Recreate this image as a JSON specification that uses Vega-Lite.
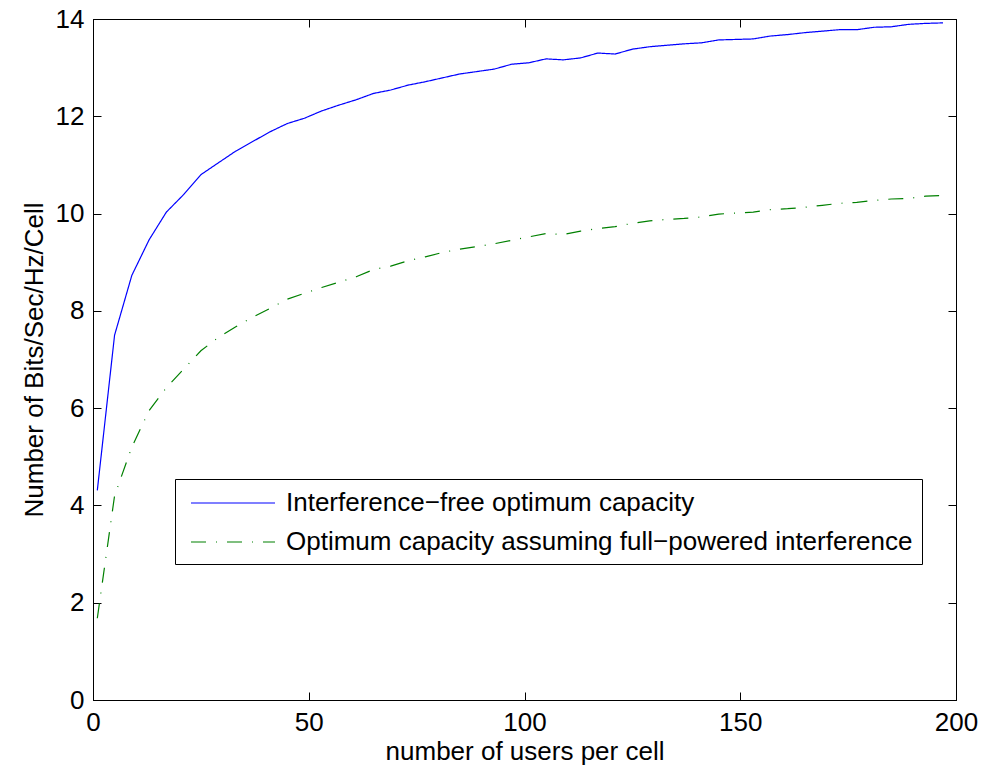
{
  "$schema": "https://vega.github.io/schema/vega-lite/v6.json",
  "width": 863,
  "height": 681,
  "autosize": {"type": "none"},
  "padding": {"left": 93, "top": 19, "right": 25, "bottom": 69},
  "background": "white",
  "config": {
    "font": "Liberation Sans",
    "view": {"stroke": "black", "strokeWidth": 1},
    "axis": {
      "domainColor": "black",
      "domainWidth": 1,
      "tickColor": "black",
      "tickWidth": 1,
      "tickSize": -8,
      "grid": false,
      "labelFont": "Liberation Sans",
      "labelFontSize": 26,
      "labelColor": "black",
      "titleFont": "Liberation Sans",
      "titleFontSize": 26,
      "titleFontWeight": "normal",
      "titleColor": "black"
    }
  },
  "datasets": {
    "d": [
      {"users": 1, "bits": 4.31, "series": "Interference−free optimum capacity"},
      {"users": 5, "bits": 7.5, "series": "Interference−free optimum capacity"},
      {"users": 9, "bits": 8.73, "series": "Interference−free optimum capacity"},
      {"users": 13, "bits": 9.46, "series": "Interference−free optimum capacity"},
      {"users": 17, "bits": 10.03, "series": "Interference−free optimum capacity"},
      {"users": 21, "bits": 10.39, "series": "Interference−free optimum capacity"},
      {"users": 25, "bits": 10.8, "series": "Interference−free optimum capacity"},
      {"users": 29, "bits": 11.04, "series": "Interference−free optimum capacity"},
      {"users": 33, "bits": 11.28, "series": "Interference−free optimum capacity"},
      {"users": 37, "bits": 11.48, "series": "Interference−free optimum capacity"},
      {"users": 41, "bits": 11.68, "series": "Interference−free optimum capacity"},
      {"users": 45, "bits": 11.85, "series": "Interference−free optimum capacity"},
      {"users": 49, "bits": 11.96, "series": "Interference−free optimum capacity"},
      {"users": 53, "bits": 12.11, "series": "Interference−free optimum capacity"},
      {"users": 57, "bits": 12.23, "series": "Interference−free optimum capacity"},
      {"users": 61, "bits": 12.34, "series": "Interference−free optimum capacity"},
      {"users": 65, "bits": 12.47, "series": "Interference−free optimum capacity"},
      {"users": 69, "bits": 12.54, "series": "Interference−free optimum capacity"},
      {"users": 73, "bits": 12.64, "series": "Interference−free optimum capacity"},
      {"users": 77, "bits": 12.71, "series": "Interference−free optimum capacity"},
      {"users": 81, "bits": 12.79, "series": "Interference−free optimum capacity"},
      {"users": 85, "bits": 12.87, "series": "Interference−free optimum capacity"},
      {"users": 89, "bits": 12.92, "series": "Interference−free optimum capacity"},
      {"users": 93, "bits": 12.97, "series": "Interference−free optimum capacity"},
      {"users": 97, "bits": 13.07, "series": "Interference−free optimum capacity"},
      {"users": 101, "bits": 13.1, "series": "Interference−free optimum capacity"},
      {"users": 105, "bits": 13.18, "series": "Interference−free optimum capacity"},
      {"users": 109, "bits": 13.16, "series": "Interference−free optimum capacity"},
      {"users": 113, "bits": 13.2, "series": "Interference−free optimum capacity"},
      {"users": 117, "bits": 13.3, "series": "Interference−free optimum capacity"},
      {"users": 121, "bits": 13.28, "series": "Interference−free optimum capacity"},
      {"users": 125, "bits": 13.38, "series": "Interference−free optimum capacity"},
      {"users": 129, "bits": 13.43, "series": "Interference−free optimum capacity"},
      {"users": 133, "bits": 13.46, "series": "Interference−free optimum capacity"},
      {"users": 137, "bits": 13.49, "series": "Interference−free optimum capacity"},
      {"users": 141, "bits": 13.51, "series": "Interference−free optimum capacity"},
      {"users": 145, "bits": 13.57, "series": "Interference−free optimum capacity"},
      {"users": 149, "bits": 13.58, "series": "Interference−free optimum capacity"},
      {"users": 153, "bits": 13.59, "series": "Interference−free optimum capacity"},
      {"users": 157, "bits": 13.65, "series": "Interference−free optimum capacity"},
      {"users": 161, "bits": 13.68, "series": "Interference−free optimum capacity"},
      {"users": 165, "bits": 13.72, "series": "Interference−free optimum capacity"},
      {"users": 169, "bits": 13.75, "series": "Interference−free optimum capacity"},
      {"users": 173, "bits": 13.78, "series": "Interference−free optimum capacity"},
      {"users": 177, "bits": 13.78, "series": "Interference−free optimum capacity"},
      {"users": 181, "bits": 13.83, "series": "Interference−free optimum capacity"},
      {"users": 185, "bits": 13.84, "series": "Interference−free optimum capacity"},
      {"users": 189, "bits": 13.89, "series": "Interference−free optimum capacity"},
      {"users": 193, "bits": 13.91, "series": "Interference−free optimum capacity"},
      {"users": 197, "bits": 13.92, "series": "Interference−free optimum capacity"},
      {"users": 1, "bits": 1.68, "series": "Optimum capacity assuming full−powered interference"},
      {"users": 5, "bits": 4.2, "series": "Optimum capacity assuming full−powered interference"},
      {"users": 9, "bits": 5.2, "series": "Optimum capacity assuming full−powered interference"},
      {"users": 13, "bits": 5.95, "series": "Optimum capacity assuming full−powered interference"},
      {"users": 17, "bits": 6.42, "series": "Optimum capacity assuming full−powered interference"},
      {"users": 21, "bits": 6.8, "series": "Optimum capacity assuming full−powered interference"},
      {"users": 25, "bits": 7.18, "series": "Optimum capacity assuming full−powered interference"},
      {"users": 29, "bits": 7.45, "series": "Optimum capacity assuming full−powered interference"},
      {"users": 33, "bits": 7.67, "series": "Optimum capacity assuming full−powered interference"},
      {"users": 37, "bits": 7.87, "series": "Optimum capacity assuming full−powered interference"},
      {"users": 41, "bits": 8.05, "series": "Optimum capacity assuming full−powered interference"},
      {"users": 45, "bits": 8.24, "series": "Optimum capacity assuming full−powered interference"},
      {"users": 49, "bits": 8.36, "series": "Optimum capacity assuming full−powered interference"},
      {"users": 53, "bits": 8.48, "series": "Optimum capacity assuming full−powered interference"},
      {"users": 57, "bits": 8.59, "series": "Optimum capacity assuming full−powered interference"},
      {"users": 61, "bits": 8.7, "series": "Optimum capacity assuming full−powered interference"},
      {"users": 65, "bits": 8.85, "series": "Optimum capacity assuming full−powered interference"},
      {"users": 69, "bits": 8.92, "series": "Optimum capacity assuming full−powered interference"},
      {"users": 73, "bits": 9.03, "series": "Optimum capacity assuming full−powered interference"},
      {"users": 77, "bits": 9.11, "series": "Optimum capacity assuming full−powered interference"},
      {"users": 81, "bits": 9.2, "series": "Optimum capacity assuming full−powered interference"},
      {"users": 85, "bits": 9.27, "series": "Optimum capacity assuming full−powered interference"},
      {"users": 89, "bits": 9.32, "series": "Optimum capacity assuming full−powered interference"},
      {"users": 93, "bits": 9.38, "series": "Optimum capacity assuming full−powered interference"},
      {"users": 97, "bits": 9.45, "series": "Optimum capacity assuming full−powered interference"},
      {"users": 101, "bits": 9.52, "series": "Optimum capacity assuming full−powered interference"},
      {"users": 105, "bits": 9.59, "series": "Optimum capacity assuming full−powered interference"},
      {"users": 109, "bits": 9.57, "series": "Optimum capacity assuming full−powered interference"},
      {"users": 113, "bits": 9.64, "series": "Optimum capacity assuming full−powered interference"},
      {"users": 117, "bits": 9.69, "series": "Optimum capacity assuming full−powered interference"},
      {"users": 121, "bits": 9.73, "series": "Optimum capacity assuming full−powered interference"},
      {"users": 125, "bits": 9.8, "series": "Optimum capacity assuming full−powered interference"},
      {"users": 129, "bits": 9.85, "series": "Optimum capacity assuming full−powered interference"},
      {"users": 133, "bits": 9.88, "series": "Optimum capacity assuming full−powered interference"},
      {"users": 137, "bits": 9.9, "series": "Optimum capacity assuming full−powered interference"},
      {"users": 141, "bits": 9.93, "series": "Optimum capacity assuming full−powered interference"},
      {"users": 145, "bits": 9.99, "series": "Optimum capacity assuming full−powered interference"},
      {"users": 149, "bits": 10.01, "series": "Optimum capacity assuming full−powered interference"},
      {"users": 153, "bits": 10.03, "series": "Optimum capacity assuming full−powered interference"},
      {"users": 157, "bits": 10.08, "series": "Optimum capacity assuming full−powered interference"},
      {"users": 161, "bits": 10.1, "series": "Optimum capacity assuming full−powered interference"},
      {"users": 165, "bits": 10.13, "series": "Optimum capacity assuming full−powered interference"},
      {"users": 169, "bits": 10.17, "series": "Optimum capacity assuming full−powered interference"},
      {"users": 173, "bits": 10.21, "series": "Optimum capacity assuming full−powered interference"},
      {"users": 177, "bits": 10.23, "series": "Optimum capacity assuming full−powered interference"},
      {"users": 181, "bits": 10.27, "series": "Optimum capacity assuming full−powered interference"},
      {"users": 185, "bits": 10.3, "series": "Optimum capacity assuming full−powered interference"},
      {"users": 189, "bits": 10.31, "series": "Optimum capacity assuming full−powered interference"},
      {"users": 193, "bits": 10.36, "series": "Optimum capacity assuming full−powered interference"},
      {"users": 197, "bits": 10.37, "series": "Optimum capacity assuming full−powered interference"}
    ]
  },
  "layer": [
    {
      "data": {"name": "d"},
      "mark": {"type": "line", "strokeWidth": 1.2},
      "encoding": {
        "x": {
          "field": "users", "type": "quantitative",
          "scale": {"domain": [0, 200], "nice": false, "zero": true},
          "axis": {"orient": "bottom", "values": [0, 50, 100, 150, 200], "title": "number of users per cell", "labelPadding": 17, "titlePadding": 3, "labelFlush": false}
        },
        "y": {
          "field": "bits", "type": "quantitative",
          "scale": {"domain": [0, 14], "nice": false},
          "axis": {"orient": "left", "values": [0, 2, 4, 6, 8, 10, 12, 14], "title": "Number of Bits/Sec/Hz/Cell", "labelPadding": 17, "titlePadding": 8, "labelFlush": false}
        },
        "color": {
          "field": "series", "type": "nominal",
          "scale": {"domain": ["Interference−free optimum capacity", "Optimum capacity assuming full−powered interference"], "range": ["#0000ff", "#008000"]},
          "legend": {"orient": "none", "legendX": 82, "legendY": 460, "title": null, "strokeColor": "black", "fillColor": "white", "padding": 9, "symbolType": "M-3,0H3", "symbolSize": 784, "symbolStrokeWidth": 1.2, "symbolOffset": 34, "labelOffset": 38, "labelFontSize": 26, "labelFont": "Liberation Sans", "labelColor": "black", "labelLimit": 0, "rowPadding": 11}
        },
        "strokeDash": {
          "field": "series", "type": "nominal",
          "scale": {"domain": ["Interference−free optimum capacity", "Optimum capacity assuming full−powered interference"], "range": [[1, 0], [15, 10, 1, 10]]},
          "legend": {"orient": "none", "legendX": 82, "legendY": 460, "title": null, "strokeColor": "black", "fillColor": "white", "padding": 9, "symbolType": "M-3,0H3", "symbolSize": 784, "symbolStrokeWidth": 1.2, "symbolOffset": 34, "labelOffset": 38, "labelFontSize": 26, "labelFont": "Liberation Sans", "labelColor": "black", "labelLimit": 0, "rowPadding": 11}
        }
      }
    },
    {
      "data": {"name": "d"},
      "mark": {"type": "point", "opacity": 0},
      "encoding": {
        "x": {
          "field": "users", "type": "quantitative",
          "axis": {"orient": "top", "values": [0, 50, 100, 150, 200], "labels": false, "title": null}
        },
        "y": {
          "field": "bits", "type": "quantitative",
          "axis": {"orient": "right", "values": [0, 2, 4, 6, 8, 10, 12, 14], "labels": false, "title": null}
        }
      }
    }
  ],
  "resolve": {"axis": {"x": "independent", "y": "independent"}}
}
